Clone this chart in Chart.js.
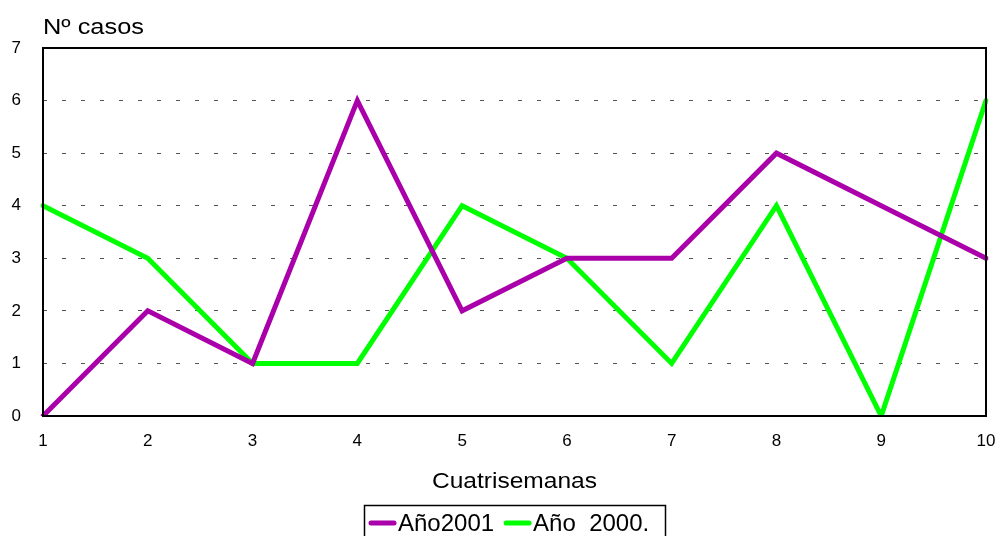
<!DOCTYPE html>
<html>
<head>
<meta charset="utf-8">
<script src="https://cdn.jsdelivr.net/npm/chart.js@4"></script>
<style>
  html, body { margin: 0; padding: 0; background: #fff; }
  #wrap { width: 995px; height: 536px; }
</style>
</head>
<body>
<div id="wrap"><canvas id="chart" width="995" height="536"></canvas></div>
<script>
const weeks = ['1', '2', '3', '4', '5', '6', '7', '8', '9', '10']
const cases2001 = [0, 2, 1, 6, 2, 3, 3, 5, 4, 3]
const cases2000 = [4, 3, 1, 1, 4, 3, 1, 4, 0, 6]
const seriesNames = ['Año2001', 'Año  2000.']
const seriesColors = ['#AA00AA', '#00FF00']

const FONT = '"Liberation Sans", Arial, sans-serif'

// draws text stretched to a given width (the titles are wide)
function wideText(ctx, text, x, y, width, align) {
    const w = ctx.measureText(text).width
    const k = width / w
    ctx.save()
    ctx.translate(align === 'center' ? x - width / 2 : x, y)
    ctx.scale(k, 1)
    ctx.textAlign = 'left'
    ctx.fillText(text, 0, 0)
    ctx.restore()
}

// frame around plot + titles + boxed legend
const extras = {
    id: 'extras',
    afterDatasetsDraw(chart) {
        const ctx = chart.ctx
        const a = chart.chartArea
        ctx.save()
        ctx.strokeStyle = '#000'
        ctx.lineWidth = 2
        ctx.strokeRect(a.left, a.top, a.right - a.left, a.bottom - a.top)

        ctx.fillStyle = '#000'
        ctx.textBaseline = 'middle'
        ctx.font = '22px ' + FONT
        wideText(ctx, 'Nº casos', a.left, 28, 101, 'left')
        wideText(ctx, 'Cuatrisemanas', (a.left + a.right) / 2, 482, 165, 'center')

        // legend
        ctx.font = '24px ' + FONT
        ctx.lineWidth = 1.5
        ctx.strokeRect(364.5, 505.5, 301, 40)
        let x = 371
        const y = 523
        chart.data.datasets.forEach((ds) => {
            ctx.strokeStyle = ds.borderColor
            ctx.lineWidth = 5
            ctx.lineCap = 'round'
            ctx.beginPath()
            ctx.moveTo(x, y)
            ctx.lineTo(x + 23, y)
            ctx.stroke()
            ctx.fillStyle = '#000'
            ctx.textAlign = 'left'
            ctx.fillText(ds.label, x + 27, y + 1)
            x += 27 + ctx.measureText(ds.label).width + 12
        })
        ctx.restore()
    }
}

const ctx = document.getElementById('chart').getContext('2d')
new Chart(ctx, {
    type: 'line',
    data: {
        labels: weeks,
        datasets: [
            { label: seriesNames[0], data: cases2001, borderColor: seriesColors[0] },
            { label: seriesNames[1], data: cases2000, borderColor: seriesColors[1] }
        ].map(d => Object.assign(d, {
            borderWidth: 5, pointRadius: 0, tension: 0, fill: false,
            borderCapStyle: 'round', borderJoinStyle: 'miter'
        }))
    },
    options: {
        responsive: false,
        animation: false,
        layout: { padding: { top: 48, right: 9, left: 0, bottom: 0 } },
        plugins: { legend: { display: false }, tooltip: { enabled: false } },
        scales: {
            x: {
                offset: false,
                grid: { display: false, drawTicks: false },
                border: { display: false },
                ticks: { color: '#000', font: { family: FONT, size: 17 }, padding: 15, maxRotation: 0 },
                afterFit: s => { s.height = 120; s.paddingLeft = 0; s.paddingRight = 0 }
            },
            y: {
                min: 0, max: 7,
                grid: {
                    drawTicks: false,
                    color: c => (c.tick.value === 0 || c.tick.value === 7) ? 'rgba(0,0,0,0)' : '#555'
                },
                border: { display: false, dash: [4, 15] },
                ticks: { stepSize: 1, color: '#000', font: { family: FONT, size: 17 }, padding: 22 },
                afterFit: s => { s.width = 43; s.paddingTop = 0; s.paddingBottom = 0 }
            }
        }
    },
    plugins: [extras]
})
</script>
</body>
</html>
